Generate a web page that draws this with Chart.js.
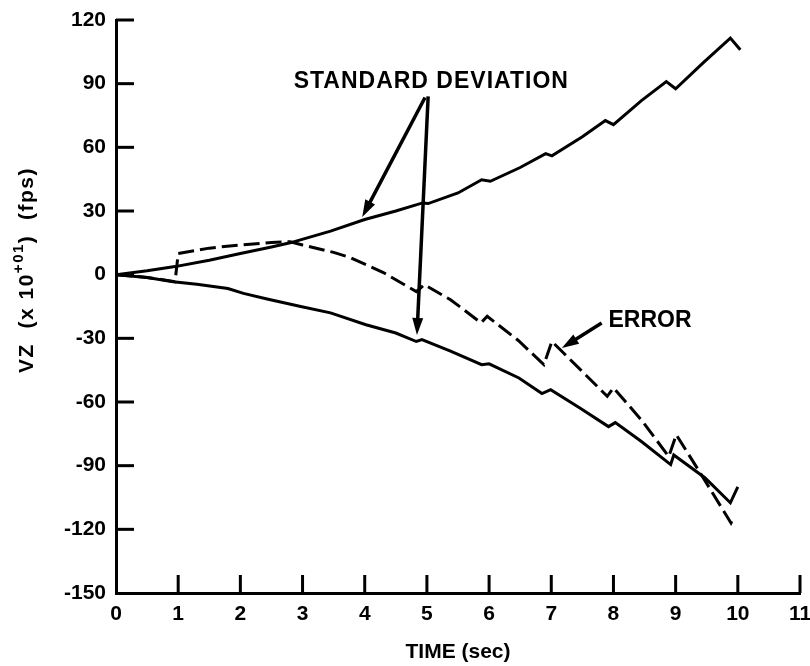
<!DOCTYPE html>
<html>
<head>
<meta charset="utf-8">
<script src="https://cdn.jsdelivr.net/npm/chart.js@4.4.1/dist/chart.umd.min.js"></script>
<style>
  html, body { margin: 0; padding: 0; background: #fff; }
  #wrap { width: 810px; height: 666px; }
</style>
</head>
<body>
<div id="wrap"><canvas id="vzChart" width="810" height="666"></canvas></div>
<script>
// values: time in sec, VZ in units of 10^+01 fps
const sdUpperTime = [0, 0.5, 0.95, 1.5, 2, 2.5, 2.8, 3.45, 4, 4.5, 4.93, 5.02, 5.5, 5.88, 6.02, 6.5, 6.91, 7.01, 7.5, 7.87, 8.0, 8.45, 8.85, 9.0, 9.45, 9.88, 10.04];
const sdUpperVz = [0, 1.8, 3.8, 6.8, 10, 13, 15, 20.5, 26, 30, 33.8, 33.5, 38.5, 44.7, 44, 50.5, 57, 56, 65, 72.6, 70.7, 82, 91, 87.6, 100, 111.5, 106];

const sdLowerTime = [0, 0.5, 0.92, 1.3, 1.8, 2.05, 2.43, 2.97, 3.45, 4.02, 4.5, 4.83, 4.92, 5.38, 5.88, 6.0, 6.48, 6.85, 6.99, 7.46, 7.92, 8.03, 8.45, 8.92, 8.97, 9.47, 9.88, 10.0];
const sdLowerVz = [0, -1.3, -3.3, -4.5, -6.5, -8.8, -11.5, -15, -18, -23.6, -27.5, -31.5, -30.6, -36, -42.4, -42, -48.7, -56, -54.2, -62.8, -71.6, -69.7, -78.6, -89.5, -85, -95.7, -107.5, -100];

const errorTime = [0, 0.5, 0.95, 1.0, 1.5, 2, 2.5, 2.8, 3, 3.5, 3.77, 4.3, 4.83, 4.96, 5.38, 5.87, 5.97, 6.47, 6.88, 7.01, 7.46, 7.9, 8.0, 8.45, 8.89, 9.01, 9.45, 9.89, 9.94];
const errorVz = [0, -1.3, -3.3, 10, 12.5, 14, 15.2, 15.5, 14, 10.5, 8, 1, -8, -4.7, -11.8, -22.7, -19.6, -31, -42.4, -31.5, -44.5, -57.3, -53.3, -68.5, -85.7, -75.4, -96, -117, -114];

const xTicks = [0, 1, 2, 3, 4, 5, 6, 7, 8, 9, 10, 11];
const yTicks = [-150, -120, -90, -60, -30, 0, 30, 60, 90, 120];

const FONT = '"Liberation Sans", Arial, Helvetica, sans-serif';

const toPoints = (ts, vs) => ts.map((t, i) => ({ x: t, y: vs[i] }));

function arrow(ctx, x1, y1, x2, y2) {
  const a = Math.atan2(y2 - y1, x2 - x1);
  const c = Math.cos(a), s = Math.sin(a);
  const head = 17, half = 5.5;
  ctx.beginPath();
  ctx.moveTo(x1, y1);
  ctx.lineTo(x2 - head * 0.7 * c, y2 - head * 0.7 * s);
  ctx.stroke();
  ctx.beginPath();
  ctx.moveTo(x2, y2);
  ctx.lineTo(x2 - head * c + half * s, y2 - head * s - half * c);
  ctx.lineTo(x2 - head * c - half * s, y2 - head * s + half * c);
  ctx.closePath();
  ctx.fill();
}

// inward tick marks, arrows, labels and the y title
const decorPlugin = {
  id: 'decor',
  afterDraw(chart) {
    const { ctx, chartArea, scales } = chart;
    const sx = scales.x, sy = scales.y;
    ctx.save();
    ctx.strokeStyle = '#000';
    ctx.fillStyle = '#000';
    ctx.lineWidth = 3;
    ctx.lineCap = 'butt';

    xTicks.forEach(t => {
      if (t === 0) return;
      const px = sx.getPixelForValue(t);
      ctx.beginPath();
      ctx.moveTo(px, chartArea.bottom);
      ctx.lineTo(px, chartArea.bottom - 18);
      ctx.stroke();
    });
    yTicks.forEach(v => {
      if (v === -150) return;
      const py = sy.getPixelForValue(v);
      ctx.beginPath();
      ctx.moveTo(chartArea.left, py);
      ctx.lineTo(chartArea.left + 18, py);
      ctx.stroke();
    });

    // arrows
    const P = (x, y) => [sx.getPixelForValue(x), sy.getPixelForValue(y)];
    const apexL = P(4.97, 83.5), apexR = P(5.02, 84);
    const headUp = P(3.96, 27.2), headLo = P(4.84, -28.4);
    ctx.lineWidth = 3.5;
    arrow(ctx, apexL[0], apexL[1], headUp[0], headUp[1]);
    arrow(ctx, apexR[0], apexR[1], headLo[0], headLo[1]);
    const eTail = P(7.81, -22.8), eHead = P(7.17, -34.6);
    arrow(ctx, eTail[0], eTail[1], eHead[0], eHead[1]);

    // labels
    ctx.font = 'bold 23px ' + FONT;
    ctx.textBaseline = 'alphabetic';
    ctx.letterSpacing = '1px';
    ctx.textAlign = 'center';
    const sdPos = P(5.07, 88.1);
    ctx.fillText('STANDARD DEVIATION', sdPos[0], sdPos[1]);
    ctx.textAlign = 'left';
    ctx.letterSpacing = '0px';
    const erPos = P(7.92, -24.6);
    ctx.fillText('ERROR', erPos[0], erPos[1]);

    // y title, rotated, with superscript exponent
    ctx.translate(27, 373);
    ctx.rotate(-Math.PI / 2);
    ctx.textAlign = 'left';
    ctx.textBaseline = 'middle';
    ctx.letterSpacing = '1.5px';
    ctx.font = 'bold 21px ' + FONT;
    let x = 0;
    const part1 = 'VZ  (x 10';
    ctx.fillText(part1, x, 0);
    x += ctx.measureText(part1).width;
    ctx.font = 'bold 15px ' + FONT;
    ctx.fillText('+01', x, -8);
    x += ctx.measureText('+01').width;
    ctx.font = 'bold 21px ' + FONT;
    ctx.fillText(')  (fps)', x, 0);
    ctx.restore();
  }
};

const ctx = document.getElementById('vzChart').getContext('2d');
new Chart(ctx, {
  type: 'scatter',
  data: {
    datasets: [
      {
        label: 'Standard deviation (+)',
        data: toPoints(sdUpperTime, sdUpperVz),
        showLine: true,
        borderColor: '#000',
        borderWidth: 3,
        pointRadius: 0,
        tension: 0
      },
      {
        label: 'Standard deviation (-)',
        data: toPoints(sdLowerTime, sdLowerVz),
        showLine: true,
        borderColor: '#000',
        borderWidth: 3,
        pointRadius: 0,
        tension: 0
      },
      {
        label: 'Error',
        data: toPoints(errorTime, errorVz),
        showLine: true,
        borderColor: '#000',
        borderWidth: 3,
        borderDash: [16, 6],
        pointRadius: 0,
        tension: 0
      }
    ]
  },
  options: {
    responsive: false,
    animation: false,
    events: [],
    layout: { padding: { top: 20, right: 10, left: 0, bottom: 0 } },
    plugins: {
      legend: { display: false },
      tooltip: { enabled: false }
    },
    scales: {
      x: {
        type: 'linear',
        min: 0,
        max: 11,
        afterFit: s => { s.height = 73; s.paddingLeft = 0; s.paddingRight = 0; },
        afterBuildTicks: s => { s.ticks = xTicks.map(v => ({ value: v })); },
        grid: { display: true, drawOnChartArea: false, drawTicks: false },
        border: { display: true, color: '#000', width: 3 },
        ticks: {
          color: '#000',
          padding: 9,
          font: { family: FONT, size: 21, weight: 'bold' }
        },
        title: {
          display: true,
          text: 'TIME (sec)',
          color: '#000',
          font: { family: FONT, size: 21, weight: 'bold' },
          padding: { top: 0, bottom: 1 }
        }
      },
      y: {
        type: 'linear',
        min: -150,
        max: 120,
        afterFit: s => { s.width = 116; s.paddingTop = 0; s.paddingBottom = 0; },
        afterBuildTicks: s => { s.ticks = yTicks.map(v => ({ value: v })); },
        grid: { display: true, drawOnChartArea: false, drawTicks: false },
        border: { display: true, color: '#000', width: 3 },
        ticks: {
          color: '#000',
          padding: 10,
          font: { family: FONT, size: 21, weight: 'bold' }
        }
      }
    }
  },
  plugins: [decorPlugin]
});
</script>
</body>
</html>
